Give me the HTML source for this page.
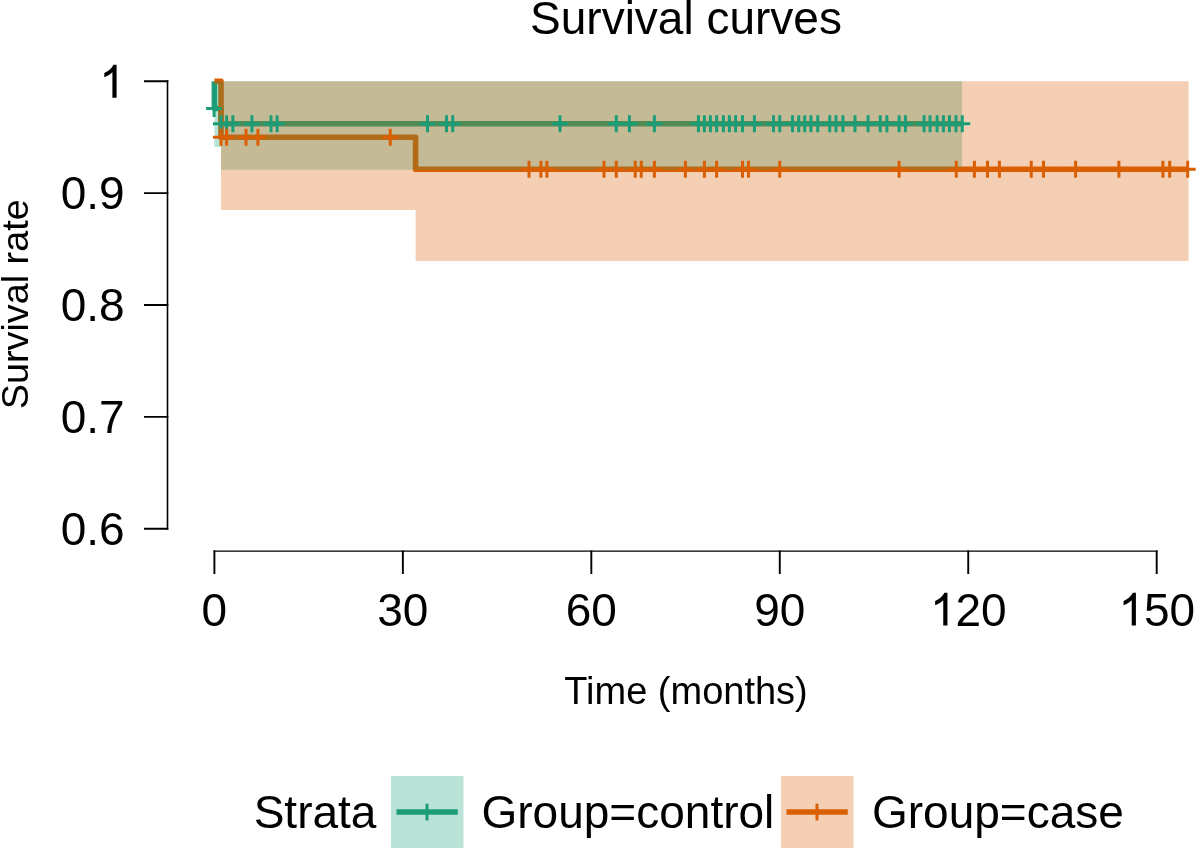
<!DOCTYPE html>
<html><head><meta charset="utf-8"><style>
html,body{margin:0;padding:0;background:#fff;width:1200px;height:851px;overflow:hidden}
svg{display:block;will-change:transform}
text{font-family:"Liberation Sans",sans-serif;fill:#000}
</style></head><body>
<svg width="1200" height="851" viewBox="0 0 1200 851">
<rect width="1200" height="851" fill="#fff"/>
<path d="M214.4 81.2V108.5H221V123.8H962.25" stroke="#1B9E77" stroke-width="5.6" fill="none" stroke-linejoin="round"/>
<path d="M214.4 81.2H221V137.2H415.6V169.3H1187.7" stroke="#D95F02" stroke-width="5.6" fill="none" stroke-linejoin="round"/>
<path d="M214.4 81.2H221V81.2H962V169.8H221V147H214.4Z" fill="#1B9E77" fill-opacity="0.3"/>
<path d="M221 81.2H1188.6V260.9H415.6V210H221Z" fill="#D95F02" fill-opacity="0.3"/>
<path d="M206.10 108.5H222.10M214.10 100.0V117.0" stroke="#1B9E77" stroke-width="3" fill="none"/>
<path d="M213.00 123.8H229.00M221.00 115.3V132.3M218.60 123.8H234.60M226.60 115.3V132.3M224.90 123.8H240.90M232.90 115.3V132.3M243.90 123.8H259.90M251.90 115.3V132.3M263.00 123.8H279.00M271.00 115.3V132.3M269.10 123.8H285.10M277.10 115.3V132.3M419.50 123.8H435.50M427.50 115.3V132.3M438.50 123.8H454.50M446.50 115.3V132.3M444.75 123.8H460.75M452.75 115.3V132.3M552.00 123.8H568.00M560.00 115.3V132.3M608.25 123.8H624.25M616.25 115.3V132.3M621.40 123.8H637.40M629.40 115.3V132.3M646.40 123.8H662.40M654.40 115.3V132.3M690.40 123.8H706.40M698.40 115.3V132.3M696.40 123.8H712.40M704.40 115.3V132.3M702.40 123.8H718.40M710.40 115.3V132.3M708.60 123.8H724.60M716.60 115.3V132.3M715.40 123.8H731.40M723.40 115.3V132.3M721.40 123.8H737.40M729.40 115.3V132.3M727.60 123.8H743.60M735.60 115.3V132.3M734.50 123.8H750.50M742.50 115.3V132.3M746.40 123.8H762.40M754.40 115.3V132.3M765.50 123.8H781.50M773.50 115.3V132.3M771.75 123.8H787.75M779.75 115.3V132.3M784.50 123.8H800.50M792.50 115.3V132.3M790.75 123.8H806.75M798.75 115.3V132.3M796.75 123.8H812.75M804.75 115.3V132.3M802.90 123.8H818.90M810.90 115.3V132.3M809.75 123.8H825.75M817.75 115.3V132.3M821.75 123.8H837.75M829.75 115.3V132.3M828.00 123.8H844.00M836.00 115.3V132.3M834.90 123.8H850.90M842.90 115.3V132.3M847.00 123.8H863.00M855.00 115.3V132.3M860.10 123.8H876.10M868.10 115.3V132.3M872.25 123.8H888.25M880.25 115.3V132.3M878.90 123.8H894.90M886.90 115.3V132.3M891.10 123.8H907.10M899.10 115.3V132.3M897.40 123.8H913.40M905.40 115.3V132.3M916.10 123.8H932.10M924.10 115.3V132.3M922.00 123.8H938.00M930.00 115.3V132.3M929.10 123.8H945.10M937.10 115.3V132.3M935.40 123.8H951.40M943.40 115.3V132.3M941.40 123.8H957.40M949.40 115.3V132.3M948.00 123.8H964.00M956.00 115.3V132.3M954.25 123.8H970.25M962.25 115.3V132.3" stroke="#1B9E77" stroke-width="3" fill="none"/>
<path d="M213.00 137.2H229.00M221.00 128.7V145.7M218.60 137.2H234.60M226.60 128.7V145.7M238.00 137.2H254.00M246.00 128.7V145.7M249.90 137.2H265.90M257.90 128.7V145.7M382.25 137.2H398.25M390.25 128.7V145.7" stroke="#D95F02" stroke-width="3" fill="none"/>
<path d="M521.00 169.3H537.00M529.00 160.8V177.8M532.90 169.3H548.90M540.90 160.8V177.8M538.90 169.3H554.90M546.90 160.8V177.8M596.00 169.3H612.00M604.00 160.8V177.8M608.25 169.3H624.25M616.25 160.8V177.8M627.25 169.3H643.25M635.25 160.8V177.8M633.25 169.3H649.25M641.25 160.8V177.8M646.40 169.3H662.40M654.40 160.8V177.8M677.40 169.3H693.40M685.40 160.8V177.8M696.40 169.3H712.40M704.40 160.8V177.8M708.60 169.3H724.60M716.60 160.8V177.8M734.50 169.3H750.50M742.50 160.8V177.8M740.50 169.3H756.50M748.50 160.8V177.8M771.75 169.3H787.75M779.75 160.8V177.8M891.10 169.3H907.10M899.10 160.8V177.8M948.25 169.3H964.25M956.25 160.8V177.8M966.40 169.3H982.40M974.40 160.8V177.8M979.50 169.3H995.50M987.50 160.8V177.8M991.40 169.3H1007.40M999.40 160.8V177.8M1023.25 169.3H1039.25M1031.25 160.8V177.8M1035.50 169.3H1051.50M1043.50 160.8V177.8M1067.60 169.3H1083.60M1075.60 160.8V177.8M1110.90 169.3H1126.90M1118.90 160.8V177.8M1154.90 169.3H1170.90M1162.90 160.8V177.8M1161.70 169.3H1177.70M1169.70 160.8V177.8M1179.70 169.3H1195.70M1187.70 160.8V177.8" stroke="#D95F02" stroke-width="3" fill="none"/>
<path d="M144 81.2H168.3M144 193.1H168.3M144 305H168.3M144 416.9H168.3M144 528.8H168.3M214.40 550.4V574M402.86 550.4V574M591.32 550.4V574M779.78 550.4V574M968.24 550.4V574M1156.70 550.4V574" stroke="#000" stroke-width="1.9" fill="none"/>
<path d="M167.5 80.3V529.6999999999999" stroke="#000" stroke-width="1.6" fill="none"/>
<path d="M213.50 551H1157.60" stroke="#000" stroke-width="1.25" fill="none"/>
<path d="M116.6 64.7V97.8H112.4V72.3C110.2 74.6 107.2 76.3 104.3 77.3V73.1C108.2 71.2 111.4 68.6 113.6 64.7Z" fill="#000"/>
<text x="124.6" y="209.1" font-family="Liberation Sans, sans-serif" font-size="46" text-anchor="end">0.9</text>
<text x="124.6" y="321.0" font-family="Liberation Sans, sans-serif" font-size="46" text-anchor="end">0.8</text>
<text x="124.6" y="432.9" font-family="Liberation Sans, sans-serif" font-size="46" text-anchor="end">0.7</text>
<text x="124.6" y="544.8" font-family="Liberation Sans, sans-serif" font-size="46" text-anchor="end">0.6</text>
<text x="214.40" y="625.5" font-family="Liberation Sans, sans-serif" font-size="46" text-anchor="middle">0</text>
<text x="402.86" y="625.5" font-family="Liberation Sans, sans-serif" font-size="46" text-anchor="middle">30</text>
<text x="591.32" y="625.5" font-family="Liberation Sans, sans-serif" font-size="46" text-anchor="middle">60</text>
<text x="779.78" y="625.5" font-family="Liberation Sans, sans-serif" font-size="46" text-anchor="middle">90</text>
<path d="M947.45 592.70V625.50H943.25V600.30C941.05 602.60 938.05 604.30 935.15 605.30V601.10C939.05 599.20 942.25 596.60 944.45 592.70Z" fill="#000"/>
<text x="955.45" y="625.5" font-family="Liberation Sans, sans-serif" font-size="46">20</text>
<path d="M1135.91 592.70V625.50H1131.71V600.30C1129.51 602.60 1126.51 604.30 1123.61 605.30V601.10C1127.51 599.20 1130.71 596.60 1132.91 592.70Z" fill="#000"/>
<text x="1143.91" y="625.5" font-family="Liberation Sans, sans-serif" font-size="46">50</text>
<text x="686" y="34.4" font-family="Liberation Sans, sans-serif" font-size="46" text-anchor="middle">Survival curves</text>
<text x="686" y="704" font-family="Liberation Sans, sans-serif" font-size="38" text-anchor="middle">Time (months)</text>
<text transform="translate(28.4 304.3) rotate(-90)" x="0" y="0" font-family="Liberation Sans, sans-serif" font-size="37.8" text-anchor="middle">Survival rate</text>
<rect x="391" y="776" width="72.5" height="72" fill="#1B9E77" fill-opacity="0.3"/>
<rect x="781" y="776" width="72.5" height="72" fill="#D95F02" fill-opacity="0.3"/>
<path d="M396.5 812H457.8" stroke="#1B9E77" stroke-width="5.3"/><path d="M427 803.7V820.4" stroke="#1B9E77" stroke-width="3"/>
<path d="M786.5 812H847.8" stroke="#D95F02" stroke-width="5.3"/><path d="M817 803.7V820.4" stroke="#D95F02" stroke-width="3"/>
<text x="253.7" y="828" font-family="Liberation Sans, sans-serif" font-size="46">Strata</text>
<text x="481.5" y="828" font-family="Liberation Sans, sans-serif" font-size="46">Group=control</text>
<text x="872" y="828" font-family="Liberation Sans, sans-serif" font-size="46">Group=case</text>
</svg></body></html>
